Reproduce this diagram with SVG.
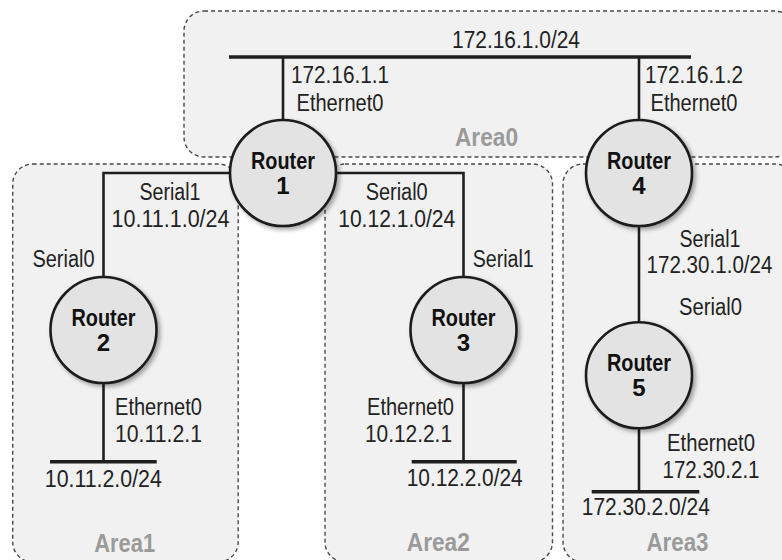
<svg xmlns="http://www.w3.org/2000/svg" width="782" height="560" viewBox="0 0 782 560">
<defs>
<filter id="sh" x="-20%" y="-20%" width="150%" height="150%">
<feDropShadow dx="2.5" dy="2.5" stdDeviation="2" flood-color="#000" flood-opacity="0.35"/>
</filter>
<style>
.area{fill:#f1f1f1;stroke:#4a4a4a;stroke-width:1.4;stroke-dasharray:4 3}
.wire{fill:none;stroke:#1e1e1e;stroke-width:2.6}
.bus{fill:none;stroke:#1e1e1e;stroke-width:3.4}
.rt{fill:#e3e3e3;stroke:#1e1e1e;stroke-width:2.6;filter:url(#sh)}
.lbl{font-family:"Liberation Sans",Arial,sans-serif;font-size:23px;fill:#222}
.rtx{font-family:"Liberation Sans",Arial,sans-serif;font-size:24px;font-weight:bold;fill:#111;text-anchor:middle}
.atx{font-family:"Liberation Sans",Arial,sans-serif;font-size:25px;font-weight:bold;fill:#9a9a9a;text-anchor:middle}
.m{text-anchor:middle}
.e{text-anchor:end}
</style>
</defs>
<rect width="782" height="560" fill="#fff"/>
<g id="areas">
<g id="area0"><rect class="area" x="184" y="11" width="611" height="146" rx="20"/><text class="atx" x="486.5" y="146" textLength="63" lengthAdjust="spacingAndGlyphs">Area0</text></g>
<g id="area1"><rect class="area" x="12.7" y="164" width="225.5" height="398" rx="20"/><text class="atx" x="124.7" y="551.5" textLength="61" lengthAdjust="spacingAndGlyphs">Area1</text></g>
<g id="area2"><rect class="area" x="325" y="164" width="227.5" height="398" rx="20"/><text class="atx" x="438.3" y="551" textLength="63" lengthAdjust="spacingAndGlyphs">Area2</text></g>
<g id="area3"><rect class="area" x="563" y="164" width="232" height="398" rx="20"/><text class="atx" x="677.5" y="551" textLength="62" lengthAdjust="spacingAndGlyphs">Area3</text></g>
</g>
<g id="connectors">
<path class="bus" d="M229 57H691"/>
<path class="wire" d="M283 57V125"/>
<path class="wire" d="M639 57V125"/>
<path class="wire" d="M283 173H103.5V280"/>
<path class="wire" d="M283 173H463.5V280"/>
<path class="wire" d="M639 173V330"/>
<path class="wire" d="M103.5 330V461.7"/>
<path class="bus" d="M50 461.7H156.7"/>
<path class="wire" d="M463.5 330V461.7"/>
<path class="bus" d="M411.7 461.7H516.7"/>
<path class="wire" d="M639 375V491.7"/>
<path class="bus" d="M591.7 491.7H699.3"/>
</g>
<g id="router1"><circle class="rt" cx="283" cy="173" r="53"/><text class="rtx" x="283" y="169" textLength="64" lengthAdjust="spacingAndGlyphs">Router</text><text class="rtx" x="283" y="194">1</text></g>
<g id="router2"><circle class="rt" cx="103.5" cy="330" r="53"/><text class="rtx" x="103.5" y="326" textLength="64" lengthAdjust="spacingAndGlyphs">Router</text><text class="rtx" x="103.5" y="351">2</text></g>
<g id="router3"><circle class="rt" cx="463.5" cy="330" r="53"/><text class="rtx" x="463.5" y="326" textLength="64" lengthAdjust="spacingAndGlyphs">Router</text><text class="rtx" x="463.5" y="351">3</text></g>
<g id="router4"><circle class="rt" cx="639" cy="173" r="53"/><text class="rtx" x="639" y="169" textLength="64" lengthAdjust="spacingAndGlyphs">Router</text><text class="rtx" x="639" y="194">4</text></g>
<g id="router5"><circle class="rt" cx="639" cy="375.3" r="53"/><text class="rtx" x="639" y="371" textLength="64" lengthAdjust="spacingAndGlyphs">Router</text><text class="rtx" x="639" y="396">5</text></g>
<g id="labels">
<text class="lbl m" x="516" y="48" textLength="128" lengthAdjust="spacingAndGlyphs">172.16.1.0/24</text>
<text class="lbl m" x="340" y="83" textLength="98" lengthAdjust="spacingAndGlyphs">172.16.1.1</text>
<text class="lbl m" x="340" y="111" textLength="87" lengthAdjust="spacingAndGlyphs">Ethernet0</text>
<text class="lbl m" x="694" y="83" textLength="98" lengthAdjust="spacingAndGlyphs">172.16.1.2</text>
<text class="lbl m" x="694" y="111" textLength="87" lengthAdjust="spacingAndGlyphs">Ethernet0</text>
<text class="lbl m" x="170" y="200" textLength="61" lengthAdjust="spacingAndGlyphs">Serial1</text>
<text class="lbl m" x="170.5" y="226.7" textLength="118" lengthAdjust="spacingAndGlyphs">10.11.1.0/24</text>
<text class="lbl e" x="94.5" y="266.7" textLength="62" lengthAdjust="spacingAndGlyphs">Serial0</text>
<text class="lbl m" x="396.7" y="200" textLength="62" lengthAdjust="spacingAndGlyphs">Serial0</text>
<text class="lbl m" x="396.7" y="226.7" textLength="117" lengthAdjust="spacingAndGlyphs">10.12.1.0/24</text>
<text class="lbl" x="472.7" y="266.7" textLength="61" lengthAdjust="spacingAndGlyphs">Serial1</text>
<text class="lbl m" x="710" y="246.7" textLength="61" lengthAdjust="spacingAndGlyphs">Serial1</text>
<text class="lbl m" x="709.5" y="273.3" textLength="126" lengthAdjust="spacingAndGlyphs">172.30.1.0/24</text>
<text class="lbl m" x="710.5" y="314.5" textLength="63" lengthAdjust="spacingAndGlyphs">Serial0</text>
<text class="lbl" x="115" y="415" textLength="87" lengthAdjust="spacingAndGlyphs">Ethernet0</text>
<text class="lbl" x="115" y="441.7" textLength="87" lengthAdjust="spacingAndGlyphs">10.11.2.1</text>
<text class="lbl m" x="103.3" y="486.7" textLength="117" lengthAdjust="spacingAndGlyphs">10.11.2.0/24</text>
<text class="lbl e" x="454" y="415" textLength="87" lengthAdjust="spacingAndGlyphs">Ethernet0</text>
<text class="lbl e" x="452" y="441.7" textLength="87" lengthAdjust="spacingAndGlyphs">10.12.2.1</text>
<text class="lbl m" x="464.7" y="486.3" textLength="116" lengthAdjust="spacingAndGlyphs">10.12.2.0/24</text>
<text class="lbl m" x="711" y="451" textLength="88" lengthAdjust="spacingAndGlyphs">Ethernet0</text>
<text class="lbl m" x="711" y="477.7" textLength="97" lengthAdjust="spacingAndGlyphs">172.30.2.1</text>
<text class="lbl m" x="645.8" y="515" textLength="128" lengthAdjust="spacingAndGlyphs">172.30.2.0/24</text>
</g>
</svg>
